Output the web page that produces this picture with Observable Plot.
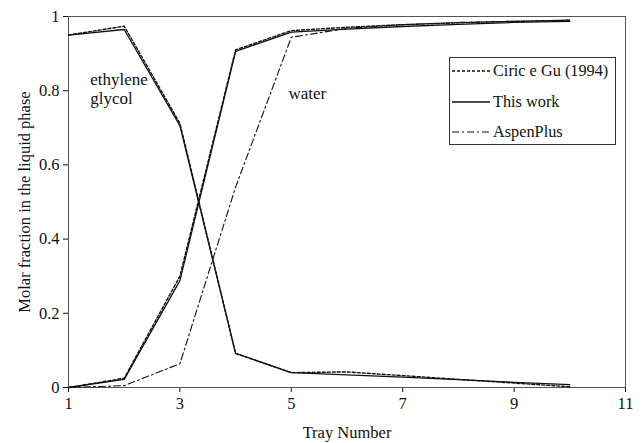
<!DOCTYPE html>
<html><head><meta charset="utf-8">
<script src="https://cdn.jsdelivr.net/npm/d3@7"></script>
<script src="https://cdn.jsdelivr.net/npm/@observablehq/plot@0.6"></script>
<style>
body{margin:0;background:#fff;}
#wrap{position:relative;width:644px;height:443px;font-family:"Liberation Serif","Times New Roman",Times,"DejaVu Serif",serif;}
#wrap svg, #wrap text{font-family:"Liberation Serif","Times New Roman",Times,"DejaVu Serif",serif !important;}
#legend{position:absolute;left:449px;top:57px;width:167px;height:88px;border:1px solid #333;background:#fff;box-sizing:border-box;font-size:16.3px;color:#111;}
#legend .row{position:absolute;left:2px;height:20px;display:flex;align-items:center;white-space:nowrap;}
#legend svg{margin-right:3px;}
</style>
</head><body>
<div id="wrap"><div id="chart"></div>
<div id="legend">
<div class="row" style="top:3px"><svg width="38" height="4"><line x1="0" y1="2" x2="38" y2="2" stroke="#111" stroke-width="1.3" stroke-dasharray="3,2"/></svg>Ciric e Gu (1994)</div>
<div class="row" style="top:34px"><svg width="38" height="4"><line x1="0" y1="2" x2="38" y2="2" stroke="#111" stroke-width="1.3"/></svg>This work</div>
<div class="row" style="top:64px"><svg width="38" height="4"><line x1="0" y1="2" x2="38" y2="2" stroke="#111" stroke-width="1.1" stroke-dasharray="7,3,2,3"/></svg>AspenPlus</div>
</div>
</div>
<script>
const trays = [1, 2, 3, 4, 5, 6, 7, 8, 9, 10];
const thisWorkEG = [0.950, 0.965, 0.706, 0.092, 0.040, 0.034, 0.028, 0.021, 0.014, 0.008];
const ciricEG    = [0.950, 0.974, 0.712, 0.092, 0.040, 0.042, 0.032, 0.022, 0.012, 0.002];
const thisWorkW  = [0.000, 0.022, 0.288, 0.906, 0.958, 0.966, 0.973, 0.979, 0.984, 0.987];
const ciricW     = [0.000, 0.025, 0.300, 0.910, 0.962, 0.971, 0.978, 0.983, 0.987, 0.990];
const aspenW     = [0.000, 0.005, 0.064, 0.540, 0.944, 0.968, 0.978, 0.984, 0.987, 0.990];
const xTicks = [1, 3, 5, 7, 9, 11];
const yTicks = [0, 0.2, 0.4, 0.6, 0.8, 1];
const annotations = [
  {x: 1.39, y: 0.805, text: "ethylene\nglycol"},
  {x: 4.95, y: 0.795, text: "water"}
];

const rows = (vals) => trays.map((t, i) => ({tray: t, v: vals[i]}));
const serif = "'Liberation Serif', 'Times New Roman', Times, 'DejaVu Serif', serif";

const plot = Plot.plot({
  width: 644, height: 443,
  marginLeft: 68, marginRight: 19, marginTop: 16, marginBottom: 56,
  style: {fontFamily: serif, fontSize: "16.5px", color: "#111", background: "#fff"},
  x: {domain: [1, 11], ticks: xTicks, tickSize: 5, tickPadding: 5, label: "Tray Number", labelAnchor: "center", labelOffset: 50, labelArrow: "none"},
  y: {domain: [0, 1], ticks: yTicks, tickSize: 5, tickPadding: 4, tickFormat: d => String(d), label: "Molar fraction in the liquid phase", labelAnchor: "center", labelOffset: 50, labelArrow: "none"},
  marks: [
    Plot.frame({stroke: "#555", strokeWidth: 1}),
    Plot.line(rows(ciricEG), {x: "tray", y: "v", stroke: "#111", strokeWidth: 1.4, strokeDasharray: "3,2"}),
    Plot.line(rows(ciricW), {x: "tray", y: "v", stroke: "#111", strokeWidth: 1.4, strokeDasharray: "3,2"}),
    Plot.line(rows(thisWorkEG), {x: "tray", y: "v", stroke: "#111", strokeWidth: 1.3}),
    Plot.line(rows(thisWorkW), {x: "tray", y: "v", stroke: "#111", strokeWidth: 1.3}),
    Plot.line(rows(aspenW), {x: "tray", y: "v", stroke: "#111", strokeWidth: 1.1, strokeDasharray: "7,3,2,3"}),
    Plot.text(annotations, {x: "x", y: "y", text: "text", textAnchor: "start", fontSize: 17, lineHeight: 1.1, fill: "#111"})
  ]
});
document.getElementById("chart").appendChild(plot);
</script>
</body></html>
